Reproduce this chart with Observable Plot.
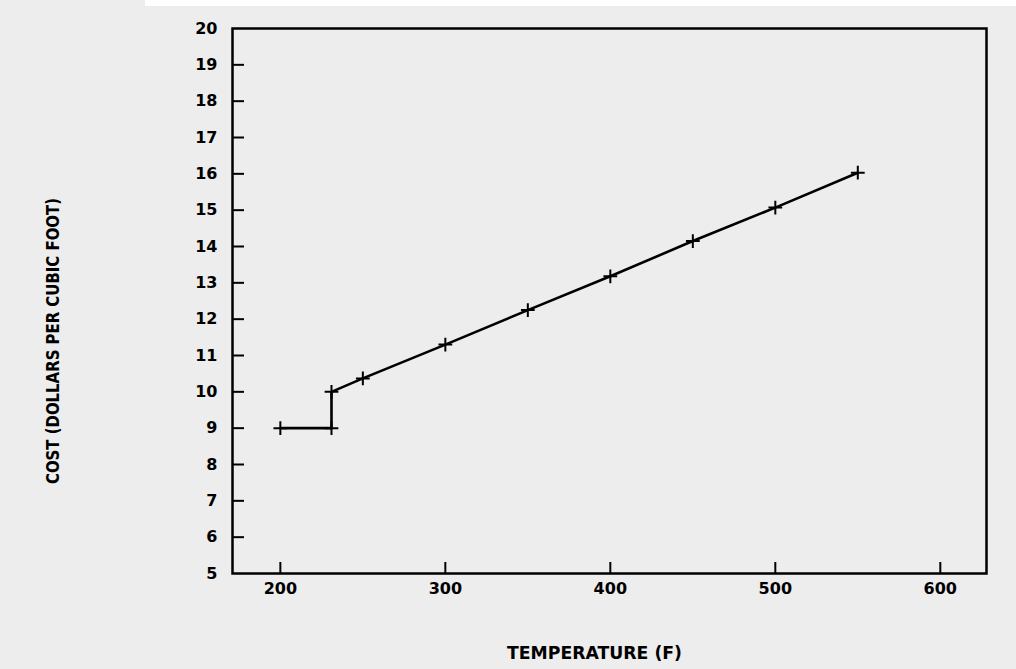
<!DOCTYPE html>
<html>
<head>
<meta charset="utf-8">
<script src="https://cdn.jsdelivr.net/npm/d3@7"></script>
<script src="https://cdn.jsdelivr.net/npm/@observablehq/plot@0.6"></script>
<style>
  html, body { margin: 0; padding: 0; background: #ededed; overflow: hidden; }
  #chart { position: relative; width: 1016px; height: 669px; }
  #strip { position: absolute; left: 145px; top: 0; width: 871px; height: 6px; background: #fff; }
  svg text { font-family: "DejaVu Sans", sans-serif; font-weight: bold; }
</style>
</head>
<body>
<div id="chart"><div id="strip"></div></div>
<script>
const temperature = [200, 231, 231, 250, 300, 350, 400, 450, 500, 550];
const cost        = [9,   9,   10,  10.37, 11.3, 12.25, 13.18, 14.15, 15.07, 16.03];
const xTicks = [200, 300, 400, 500, 600];
const yTicks = [5, 6, 7, 8, 9, 10, 11, 12, 13, 14, 15, 16, 17, 18, 19, 20];
const xLabel = "TEMPERATURE (F)";
const yLabel = "COST (DOLLARS PER CUBIC FOOT)";

const data = temperature.map((t, i) => ({t, c: cost[i]}));

const plot = Plot.plot({
  width: 1016,
  height: 669,
  marginLeft: 232,
  marginRight: 30,
  marginTop: 28,
  marginBottom: 96,
  style: {background: "transparent", color: "black", fontSize: "16px", overflow: "visible"},
  x: {domain: [171, 628]},
  y: {domain: [5, 20]},
  marks: [
    Plot.axisX({ticks: xTicks, tickSize: -11, tickPadding: 20, tickFormat: d => String(d), label: null, strokeWidth: 2, fontSize: 16}),
    Plot.axisY({ticks: yTicks.filter(d => d !== 5 && d !== 20), tickSize: -12, tickPadding: 27, tickFormat: d => String(d), label: null, strokeWidth: 2, fontSize: 16}),
    Plot.axisY({ticks: [5, 20], tickSize: 0, tickPadding: 15, tickFormat: d => String(d), label: null, fontSize: 16}),
    Plot.frame({stroke: "black", strokeWidth: 2.5}),
    Plot.line(data, {x: "t", y: "c", stroke: "black", strokeWidth: 2.6}),
    Plot.dot(data, {x: "t", y: "c", symbol: "plus", r: 4.5, stroke: "black", strokeWidth: 2}),
    Plot.text([xLabel], {frameAnchor: "bottom", dx: -15, dy: 80, text: d => d, fontSize: 17, fontWeight: "bold", fill: "black", textAnchor: "middle", lineAnchor: "middle"}),
    Plot.text([yLabel], {frameAnchor: "left", dx: -179, dy: 40, rotate: -90, text: d => d, fontSize: 18, fontWeight: "bold", fill: "black", textAnchor: "middle", lineAnchor: "middle"})
  ]
});
plot.style.position = "absolute";
plot.style.left = "0";
plot.style.top = "0";
document.getElementById("chart").appendChild(plot);
const texts = d3.select(plot).selectAll("g[aria-label='text']").nodes();
if (texts[0]) d3.select(texts[0]).selectAll("text").attr("textLength", 175).attr("lengthAdjust", "spacingAndGlyphs");
if (texts[1]) d3.select(texts[1]).selectAll("text").attr("textLength", 286).attr("lengthAdjust", "spacingAndGlyphs");
</script>
</body>
</html>
